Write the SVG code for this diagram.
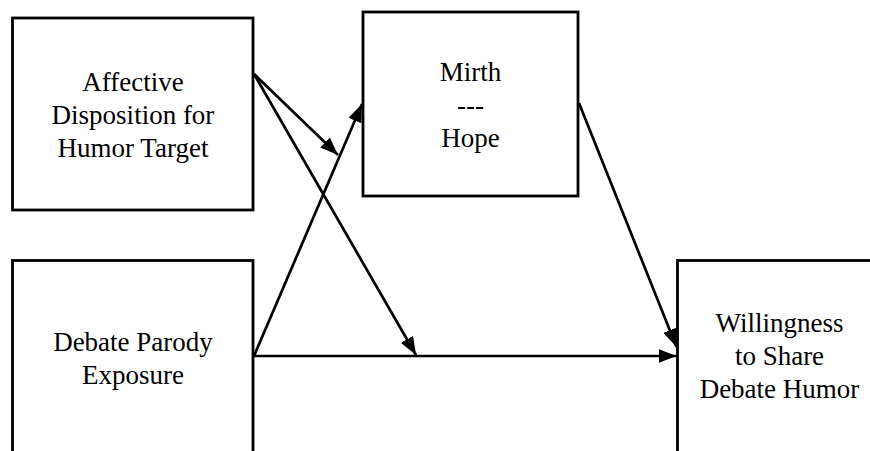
<svg xmlns="http://www.w3.org/2000/svg" width="870" height="451" viewBox="0 0 870 451">
  <defs>
    <style>
      .box { fill: #ffffff; stroke: #000000; stroke-width: 2.8; }
      .lbl { font-family: "Liberation Serif", "Times New Roman", serif; font-size: 27px; fill: #000000; text-anchor: middle; }
      .edge { stroke: #000000; stroke-width: 2.7; fill: none; marker-end: url(#arrow); }
    </style>
    <marker id="arrow" markerUnits="userSpaceOnUse" markerWidth="20" markerHeight="14" refX="18" refY="7" orient="auto">
      <polygon points="0,0 18,7 0,14" fill="#000000"/>
    </marker>
  </defs>
  <rect width="870" height="451" fill="#ffffff"/>
  <g id="node-affective">
    <rect class="box" x="12.5" y="18" width="240.5" height="192"/>
    <text class="lbl" x="133" y="90.5">Affective</text>
    <text class="lbl" x="133" y="123.5">Disposition for</text>
    <text class="lbl" x="133" y="156.5">Humor Target</text>
  </g>
  <g id="node-mirth">
    <rect class="box" x="363" y="12" width="215" height="184"/>
    <text class="lbl" x="470.5" y="81">Mirth</text>
    <text class="lbl" x="470.5" y="114">---</text>
    <text class="lbl" x="470.5" y="147">Hope</text>
  </g>
  <g id="node-debate">
    <rect class="box" x="12.5" y="260.5" width="240.5" height="200"/>
    <text class="lbl" x="133" y="350.5">Debate Parody</text>
    <text class="lbl" x="133" y="383.5">Exposure</text>
  </g>
  <g id="node-willingness">
    <rect class="box" x="677.5" y="260.5" width="210" height="200"/>
    <text class="lbl" x="779.5" y="332">Willingness</text>
    <text class="lbl" x="779.5" y="365">to Share</text>
    <text class="lbl" x="779.5" y="398">Debate Humor</text>
  </g>
  <g id="connectors">
    <line class="edge" x1="254" y1="74" x2="338" y2="155"/>
    <line class="edge" x1="254" y1="74" x2="416" y2="355"/>
    <line class="edge" x1="254" y1="356" x2="362" y2="104"/>
    <line class="edge" x1="254" y1="356" x2="676.5" y2="356"/>
    <line class="edge" x1="579" y1="103" x2="676.5" y2="347"/>
  </g>
</svg>
